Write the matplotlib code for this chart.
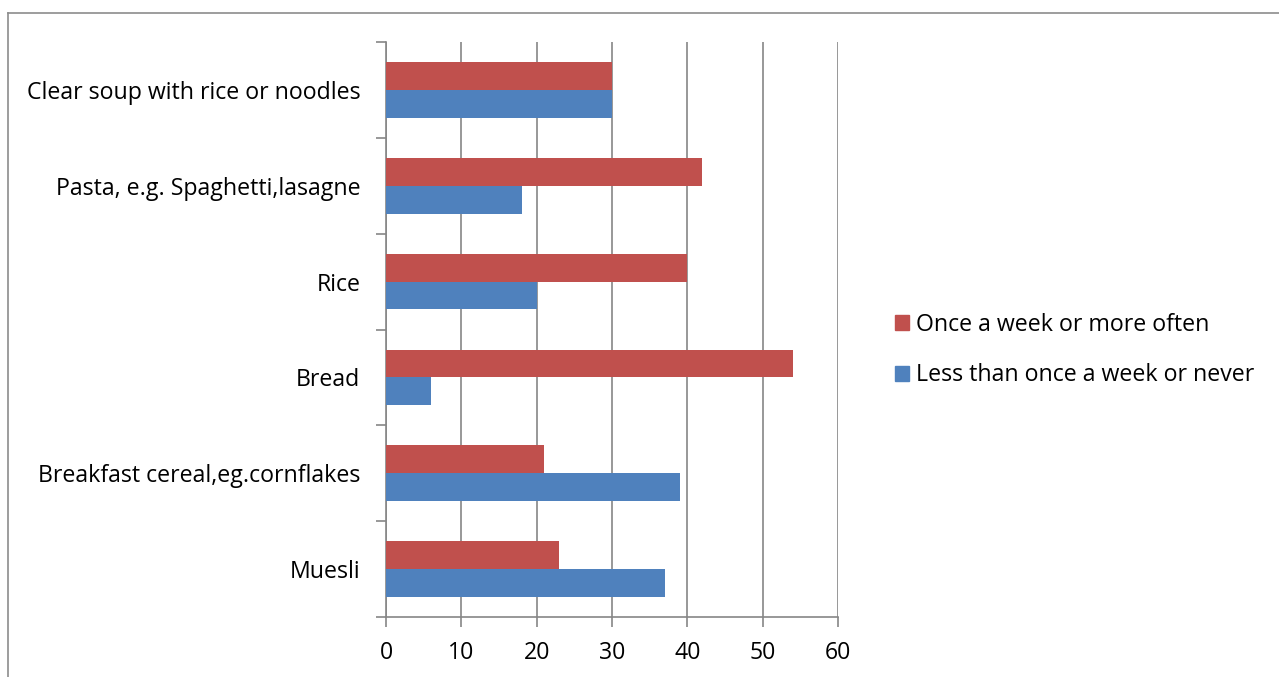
import matplotlib.pyplot as plt
import numpy as np
from matplotlib.lines import Line2D
from matplotlib.patches import Patch

categories = ['Muesli', 'Breakfast cereal,eg.cornflakes', 'Bread', 'Rice',
              'Pasta, e.g. Spaghetti,lasagne', 'Clear soup with rice or noodles']
once_a_week = [23, 21, 54, 40, 42, 30]
less_often = [37, 39, 6, 20, 18, 30]
x_ticks = [0, 10, 20, 30, 40, 50, 60]

red = '#C0504D'
blue = '#4F81BD'
grey = '#868686'
fs = 16.7

plt.rcParams['font.family'] = ['Open Sans', 'DejaVu Sans']

fig = plt.figure(figsize=(12.79, 6.77), dpi=100)
W, H = 1279, 677
ax = fig.add_axes([386 / W, 1 - 617 / H, (838 - 386) / W, (617 - 42) / H])

y = np.arange(len(categories))
h = 0.29
ax.barh(y - h / 2, less_often, height=h, color=blue, zorder=3,
        label='Less than once a week or never')
ax.barh(y + h / 2, once_a_week, height=h, color=red, zorder=3,
        label='Once a week or more often')

ax.set_xlim(0, 60)
ax.set_ylim(-0.5, len(categories) - 0.5)
ax.set_xticks(x_ticks)
ax.xaxis.grid(True, color=grey, linewidth=1.2, zorder=0)

# category labels sit between the boundary ticks
ax.set_yticks(np.arange(-0.5, len(categories), 1))
ax.set_yticklabels([])
ax.set_yticks(y, minor=True)
ax.set_yticklabels(categories, minor=True)
ax.tick_params(axis='y', which='minor', length=0, pad=18.5, labelsize=fs)
ax.tick_params(axis='y', which='major', length=7, width=1.2, color=grey)
ax.tick_params(axis='x', length=7, width=1.2, color=grey, labelsize=fs, pad=10)

for side in ['top', 'right']:
    ax.spines[side].set_visible(False)
for side in ['left', 'bottom']:
    ax.spines[side].set_color(grey)
    ax.spines[side].set_linewidth(1.2)

handles = [Patch(color=red, label='Once a week or more often'),
           Patch(color=blue, label='Less than once a week or never')]
fig.legend(handles=handles, loc='center left', bbox_to_anchor=(874 / W, 1 - 350 / H),
           frameon=False, fontsize=fs, handlelength=0.6, handleheight=0.6,
           handletextpad=0.3, labelspacing=1.15)

# chart frame
fig.add_artist(Line2D([8 / W, 8 / W], [0, 1 - 13 / H], color='#8c8c8c', lw=1.2))
fig.add_artist(Line2D([8 / W, 1], [1 - 13 / H, 1 - 13 / H], color='#8c8c8c', lw=1.2))

fig.savefig('out.png', dpi=100)
